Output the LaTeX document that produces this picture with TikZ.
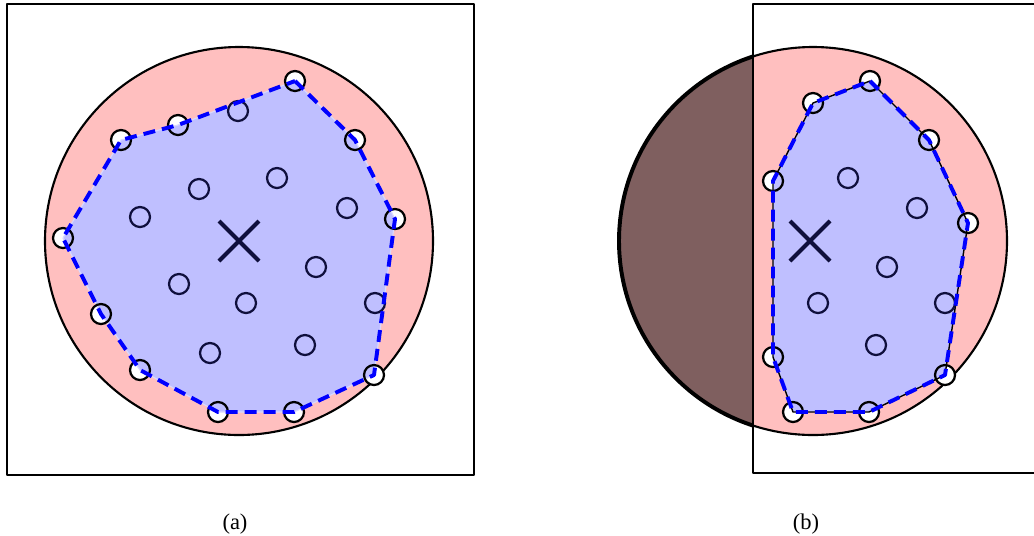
\documentclass[tikz,border=0pt]{standalone}
\usepackage{fontspec}
\setmainfont{Liberation Serif}
\definecolor{diskpink}{RGB}{255,191,191}
\definecolor{hullblue}{RGB}{191,191,255}
\definecolor{outbrown}{RGB}{127,95,95}
\definecolor{ptnavy}{RGB}{15,15,60}
\begin{document}
\begin{tikzpicture}[x=0.025cm, y=-0.025cm, line join=round, line cap=round,
        font=\fontsize{16}{18}\selectfont,
        pt/.style={draw=ptnavy, line width=1.6pt},
        hullpt/.style={draw=black, line width=1.6pt},
        hulldash/.style={blue, line width=2.8pt, line cap=butt, dash pattern=on 8.5pt off 5pt},
        xmark/.style={ptnavy, line width=3pt, line cap=butt}]
    \useasboundingbox (0,0) rectangle (1034,535);
    \path
    (239,241) coordinate (Ca) (813,241) coordinate (Cb) (810,241) coordinate (Xb)
    % hull of (a)
    (295,81) coordinate (A1) (355,140) coordinate (A2) (395,219) coordinate (A3)
    (374,375) coordinate (A4) (294,412) coordinate (A5) (218,412) coordinate (A6)
    (140,370) coordinate (A7) (101,314) coordinate (A8) (63,238) coordinate (A9)
    (121,140) coordinate (A10) (178,125) coordinate (A11)
    % hull of (b)
    (870,81) coordinate (B1) (929,140) coordinate (B2) (968,223) coordinate (B3)
    (945,375) coordinate (B4) (869,412) coordinate (B5) (793,412) coordinate (B6)
    (773,357) coordinate (B7) (773,181) coordinate (B8) (813,103) coordinate (B9)
    ;
    %\draw[gray!0] (0,0) grid (1034,535);

    % (a)
    \draw[line width=1.3pt] (7,4) rectangle (474,475);
    \draw[fill=diskpink, line width=1.5pt] (Ca) circle (194);
    \foreach \p in {A1,A2,A3,A4,A5,A6,A7,A8,A9,A10,A11}
        \fill[white] (\p) circle (10);
    \fill[hullblue, draw=white!85!blue, line width=0.8pt] (A1)--(A2)--(A3)--(A4)--(A5)--(A6)--(A7)--(A8)--(A9)--(A10)--(A11)--cycle;
    \foreach \p in {A1,A2,A3,A4,A5,A6,A7,A8,A9,A10,A11}
        \draw[hullpt] (\p) circle (10);
    \foreach \x/\y in {238/111,199/189,277/178,140/217,347/208,316/267,179/284,246/303,375/303,210/353,305/345}
        \draw[pt] (\x,\y) circle (10);
    \draw[hulldash] (A1)--(A2)--(A3)--(A4)--(A5)--(A6)--(A7)--(A8)--(A9)--(A10)--(A11)--cycle;
    \draw[xmark] ([shift={(-20,-20)}]Ca)--([shift={(20,20)}]Ca) ([shift={(-20,20)}]Ca)--([shift={(20,-20)}]Ca);
    \node (la) at (235,524) {(a)};

    % (b)
    \draw[fill=diskpink, line width=1.5pt] (Cb) circle (194);
    \begin{scope}
        \clip (600,0) rectangle (753,535);
        \draw[fill=outbrown, line width=2.8pt] (Cb) circle (194);
    \end{scope}
    \draw[line width=1.3pt] (1034,4)--(753,4)--(753,473)--(1034,473);
    \foreach \p in {B1,B2,B3,B4,B5,B6,B7,B8,B9}
        \fill[white] (\p) circle (10);
    \fill[hullblue, draw=black, line width=1pt] (B1)--(B2)--(B3)--(B4)--(B5)--(B6)--(B7)--(B8)--(B9)--cycle;
    \foreach \p in {B1,B2,B3,B4,B5,B6,B7,B8,B9}
        \draw[hullpt] (\p) circle (10);
    \foreach \x/\y in {848/178,917/208,887/267,818/303,945/303,876/345}
        \draw[pt] (\x,\y) circle (10);
    \draw[hulldash] (B1)--(B2)--(B3)--(B4)--(B5)--(B6)--(B7)--(B8)--(B9)--cycle;
    \draw[xmark] ([shift={(-20,-20)}]Xb)--([shift={(20,20)}]Xb) ([shift={(-20,20)}]Xb)--([shift={(20,-20)}]Xb);
    \node (lb) at (806,524) {(b)};
\end{tikzpicture}
\end{document}
